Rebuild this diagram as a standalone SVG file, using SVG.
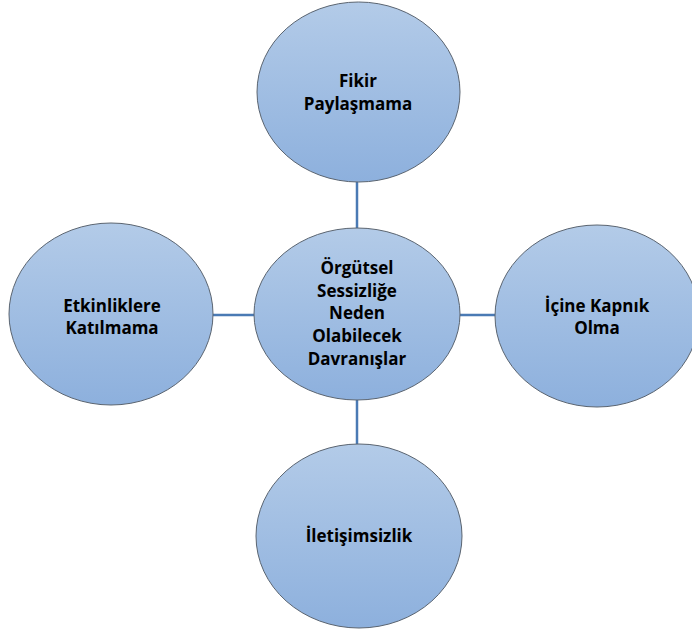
<svg xmlns="http://www.w3.org/2000/svg" width="692" height="630" viewBox="0 0 692 630">
  <defs>
    <linearGradient id="bubbleFill" x1="0" y1="0" x2="0" y2="1">
      <stop offset="0" stop-color="#b3cbe8"/>
      <stop offset="1" stop-color="#8db0dd"/>
    </linearGradient>
  </defs>
  <style>
    .bubble { fill: url(#bubbleFill); stroke: #5a6470; stroke-width: 1; }
    .link { stroke: #4a7ab4; stroke-width: 2.5; fill: none; }
    .label { font-family: "Open Sans", "Noto Sans", "Liberation Sans", sans-serif; font-weight: bold; font-size: 17px; fill: #000; text-anchor: middle; }
  </style>
  <rect width="692" height="630" fill="#fff"/>

  <g id="connectors">
    <line class="link" x1="357" y1="182" x2="357" y2="228"/>
    <line class="link" x1="213" y1="315" x2="254" y2="315"/>
    <line class="link" x1="460" y1="315" x2="495" y2="315"/>
    <line class="link" x1="357" y1="400" x2="357" y2="444"/>
  </g>

  <g id="node-fikir">
    <ellipse class="bubble" cx="358.5" cy="92" rx="101.5" ry="90"/>
    <text class="label" x="358" y="87">Fikir</text>
    <text class="label" x="358" y="110">Paylaşmama</text>
  </g>

  <g id="node-center">
    <ellipse class="bubble" cx="357" cy="314" rx="103" ry="86"/>
    <text class="label" x="357" y="274">Örgütsel</text>
    <text class="label" x="357" y="297">Sessizliğe</text>
    <text class="label" x="357" y="319">Neden</text>
    <text class="label" x="357" y="342">Olabilecek</text>
    <text class="label" x="357" y="365">Davranışlar</text>
  </g>

  <g id="node-etkinlik">
    <ellipse class="bubble" cx="111" cy="314" rx="102" ry="91"/>
    <text class="label" x="112" y="312">Etkinliklere</text>
    <text class="label" x="112" y="334">Katılmama</text>
  </g>

  <g id="node-icine">
    <ellipse class="bubble" cx="597" cy="316" rx="102" ry="91"/>
    <text class="label" x="597" y="312">İçine Kapnık</text>
    <text class="label" x="597" y="334">Olma</text>
  </g>

  <g id="node-iletisim">
    <ellipse class="bubble" cx="359" cy="536" rx="103" ry="92"/>
    <text class="label" x="359" y="542">İletişimsizlik</text>
  </g>
</svg>
